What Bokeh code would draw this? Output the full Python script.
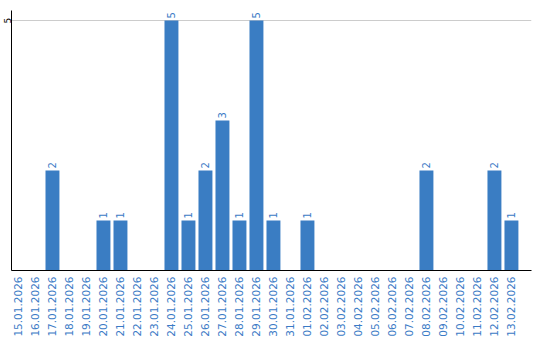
import numpy as np
from bokeh.plotting import figure
from bokeh.models import ColumnDataSource, Range1d, FixedTicker
from bokeh.core.properties import value
from bokeh.embed import file_html
from bokeh.resources import INLINE

dates = ["15.01.2026", "16.01.2026", "17.01.2026", "18.01.2026", "19.01.2026",
         "20.01.2026", "21.01.2026", "22.01.2026", "23.01.2026", "24.01.2026",
         "25.01.2026", "26.01.2026", "27.01.2026", "28.01.2026", "29.01.2026",
         "30.01.2026", "31.01.2026", "01.02.2026", "02.02.2026", "03.02.2026",
         "04.02.2026", "05.02.2026", "06.02.2026", "07.02.2026", "08.02.2026",
         "09.02.2026", "10.02.2026", "11.02.2026", "12.02.2026", "13.02.2026"]
counts = [0, 0, 2, 0, 0, 1, 1, 0, 0, 5, 1, 2, 3, 1, 5, 1, 0, 1, 0, 0,
          0, 0, 0, 0, 2, 0, 0, 0, 2, 1]
y_ticks = [5]

BLUE = "#3a7dc3"
TXT = "#3b7bc6"

idx = list(range(len(dates)))
src = ColumnDataSource(dict(x=idx, y=counts))
lab = ColumnDataSource(dict(x=[i for i, c in zip(idx, counts) if c > 0],
                            y=[c for c in counts if c > 0],
                            t=[str(c) for c in counts if c > 0]))

p = figure(frame_width=520, frame_height=260,
           x_range=Range1d(-0.41, 30.18), y_range=Range1d(0, 5.2),
           output_backend="svg", toolbar_location=None,
           min_border_left=0, min_border_right=10, min_border_top=10,
           min_border_bottom=0)
p.outline_line_color = None
p.background_fill_color = "white"
p.border_fill_color = "white"

p.vbar(x="x", top="y", width=0.82, source=src, color=BLUE, line_color=None)
p.text(x="x", y="y", text="t", source=lab, angle=np.pi / 2,
       text_align="left", text_baseline="middle", y_offset=-2,
       text_color=TXT, text_font=value("DejaVu Sans"), text_font_size="10px")

p.xgrid.visible = False
p.ygrid.ticker = FixedTicker(ticks=y_ticks)
p.ygrid.grid_line_color = "#cccccc"

xa = p.xaxis[0]
xa.ticker = FixedTicker(ticks=idx)
xa.major_label_overrides = {i: d for i, d in zip(idx, dates)}
xa.major_label_orientation = np.pi / 2
xa.major_label_text_color = TXT
xa.major_label_text_font = "DejaVu Sans"
xa.major_label_text_font_size = "10.5px"
xa.major_tick_out = 0
xa.major_tick_in = 0
xa.minor_tick_out = 0
xa.minor_tick_in = 0
xa.major_label_standoff = 6
xa.axis_line_color = "black"

ya = p.yaxis[0]
ya.ticker = FixedTicker(ticks=y_ticks)
ya.major_label_orientation = "vertical"
ya.major_label_text_color = "black"
ya.major_label_text_font = "DejaVu Sans"
ya.major_label_text_font_size = "9px"
ya.major_tick_out = 0
ya.major_tick_in = 0
ya.minor_tick_out = 0
ya.minor_tick_in = 0
ya.major_label_standoff = 1
ya.axis_line_color = "black"

open("out.html", "w").write(file_html(p, INLINE))
